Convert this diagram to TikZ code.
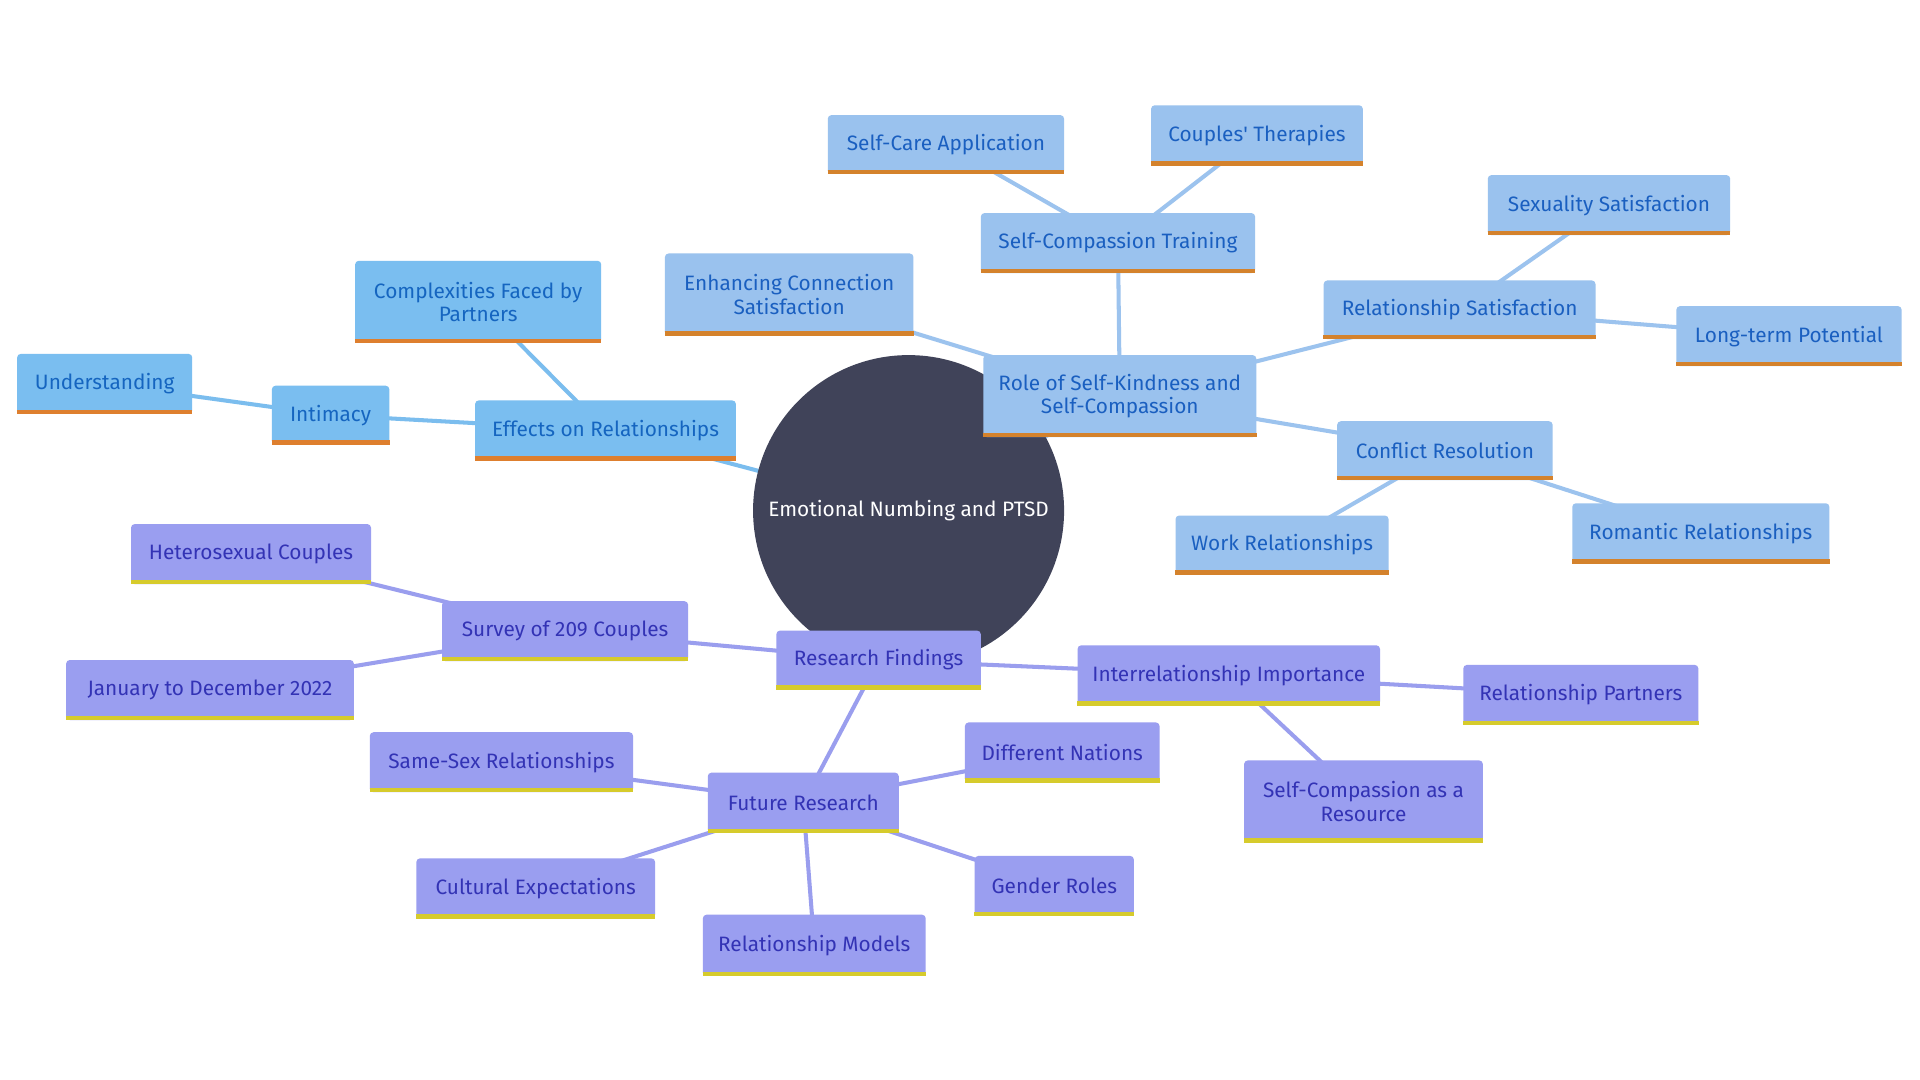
\documentclass[tikz,border=0pt]{standalone}
\usepackage{fontspec}
\setmainfont{Fira Sans}
\newfontfamily\plainq{Fira Sans}
\usetikzlibrary{backgrounds}
\definecolor{rootc}{HTML}{404359}
\definecolor{fillA}{HTML}{7ABEF0}
\definecolor{lineA}{HTML}{7BBDEE}
\definecolor{textA}{HTML}{1565C0}
\definecolor{barA}{HTML}{DE7F2E}
\definecolor{fillB}{HTML}{9AC2EE}
\definecolor{lineB}{HTML}{9CC3EE}
\definecolor{textB}{HTML}{1A5FC0}
\definecolor{barB}{HTML}{D4822C}
\definecolor{fillC}{HTML}{9A9EF0}
\definecolor{lineC}{HTML}{9A9EEE}
\definecolor{textC}{HTML}{3333B5}
\definecolor{barC}{HTML}{D6CB2C}
\tikzset{
  sz/.style 2 args={minimum width=#1pt, minimum height=#2pt},
  box/.style={rectangle, rounded corners=3pt, inner sep=0pt, align=center,
    font=\fontsize{17}{19}\selectfont},
  boxA/.style={box, fill=fillA, text=textA,
    append after command={([yshift=1.75pt]\tikzlastnode.south west) edge[draw=barA, line width=3.5pt] ([yshift=1.75pt]\tikzlastnode.south east)}},
  boxB/.style={box, fill=fillB, text=textB,
    append after command={([yshift=1.75pt]\tikzlastnode.south west) edge[draw=barB, line width=3.5pt] ([yshift=1.75pt]\tikzlastnode.south east)}},
  boxC/.style={box, fill=fillC, text=textC,
    append after command={([yshift=1.75pt]\tikzlastnode.south west) edge[draw=barC, line width=3.5pt] ([yshift=1.75pt]\tikzlastnode.south east)}},
  conA/.style={draw=lineA, line width=3.3pt},
  conB/.style={draw=lineB, line width=3.3pt},
  conC/.style={draw=lineC, line width=3.3pt},
}
\begin{document}
\begin{tikzpicture}[x=1pt, y=-1pt]
\useasboundingbox (0,0) rectangle (1568,882);
% root
\node[circle, fill=rootc, text=white, minimum size=254pt, inner sep=0pt,
  font=\fontsize{17}{19}\selectfont] (root) at (742,417) {Emotional Numbing and PTSD};
% branch A
\node[boxA, sz={213}{49}] (effects) at (494.5,351.5) {Effects on Relationships};
\node[boxA, sz={96}{48}] (intimacy) at (270,339) {Intimacy};
\node[boxA, sz={143}{49}] (underst) at (85.5,313.5) {Understanding};
\node[boxA, sz={201}{67}] (complex) at (390.5,246.5) {Complexities Faced by\\Partners};
% branch B
\node[boxB, sz={223}{67}] (role) at (914.5,323.5) {Role of Self-Kindness and\\Self-Compassion};
\node[boxB, sz={203}{67}] (enhance) at (644.5,240.5) {Enhancing Connection\\Satisfaction};
\node[boxB, sz={224}{49}] (training) at (913,198.5) {Self-Compassion Training};
\node[boxB, sz={193}{48}] (selfcare) at (772.5,118) {Self-Care Application};
\node[boxB, sz={173}{49}] (couples) at (1026.5,110.5) {Couples{\plainq'} Therapies};
\node[boxB, sz={222}{48}] (relsat) at (1192,253) {Relationship Satisfaction};
\node[boxB, sz={198}{49}] (sexual) at (1314,167.5) {Sexuality Satisfaction};
\node[boxB, sz={184}{49}] (longterm) at (1461,274.5) {Long-term Potential};
\node[boxB, sz={176}{48}] (conflict) at (1180,368) {Conflict Resolution};
\node[boxB, sz={174}{48}] (work) at (1047,445) {Work Relationships};
\node[boxB, sz={210}{49}] (romantic) at (1389,435.5) {Romantic Relationships};
% branch C
\node[boxC, sz={167}{48}] (research) at (717.5,539) {Research Findings};
\node[boxC, sz={201}{49}] (survey) at (461.5,515.5) {Survey of 209 Couples};
\node[boxC, sz={196}{49}] (hetero) at (205,452.5) {Heterosexual Couples};
\node[boxC, sz={235}{49}] (january) at (171.5,563.5) {January to December 2022};
\node[boxC, sz={247}{49}] (interrel) at (1003.5,551.5) {Interrelationship Importance};
\node[boxC, sz={192}{49}] (partners) at (1291,567.5) {Relationship Partners};
\node[boxC, sz={195}{67}] (resource) at (1113.5,654.5) {Self-Compassion as a\\Resource};
\node[boxC, sz={156}{49}] (future) at (656,655.5) {Future Research};
\node[boxC, sz={215}{49}] (samesex) at (409.5,622.5) {Same-Sex Relationships};
\node[boxC, sz={159}{49}] (nations) at (867.5,614.5) {Different Nations};
\node[boxC, sz={195}{49}] (cultural) at (437.5,725.5) {Cultural Expectations};
\node[boxC, sz={130}{49}] (gender) at (861,723.5) {Gender Roles};
\node[boxC, sz={182}{50}] (models) at (665,772) {Relationship Models};
\begin{scope}[on background layer]
\fill[white] (0,0) rectangle (1568,882);
\draw[conA] (root.center) -- (effects.center);
\draw[conA] (effects.center) -- (intimacy.center);
\draw[conA] (intimacy.center) -- (underst.center);
\draw[conA] (effects.center) -- (complex.center);
\draw[conB] (root.center) -- (role.center);
\draw[conB] (role.center) -- (enhance.center);
\draw[conB] (role.center) -- (training.center);
\draw[conB] (training.center) -- (selfcare.center);
\draw[conB] (training.center) -- (couples.center);
\draw[conB] (role.center) -- (relsat.center);
\draw[conB] (relsat.center) -- (sexual.center);
\draw[conB] (relsat.center) -- (longterm.center);
\draw[conB] (role.center) -- (conflict.center);
\draw[conB] (conflict.center) -- (work.center);
\draw[conB] (conflict.center) -- (romantic.center);
\draw[conC] (root.center) -- (research.center);
\draw[conC] (research.center) -- (survey.center);
\draw[conC] (survey.center) -- (hetero.center);
\draw[conC] (survey.center) -- (january.center);
\draw[conC] (research.center) -- (interrel.center);
\draw[conC] (interrel.center) -- (partners.center);
\draw[conC] (interrel.center) -- (resource.center);
\draw[conC] (research.center) -- (future.center);
\draw[conC] (future.center) -- (samesex.center);
\draw[conC] (future.center) -- (nations.center);
\draw[conC] (future.center) -- (cultural.center);
\draw[conC] (future.center) -- (gender.center);
\draw[conC] (future.center) -- (models.center);
\end{scope}
\end{tikzpicture}
\end{document}
